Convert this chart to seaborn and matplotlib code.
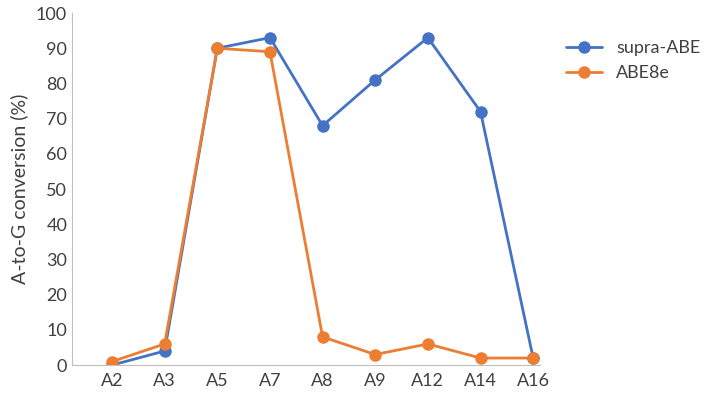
import matplotlib
matplotlib.use("Agg")
import matplotlib.pyplot as plt
import seaborn as sns
import pandas as pd

positions = ["A2", "A3", "A5", "A7", "A8", "A9", "A12", "A14", "A16"]
supra_abe = [0, 4, 90, 93, 68, 81, 93, 72, 2]
abe8e = [1, 6, 90, 89, 8, 3, 6, 2, 2]

sns.set_style("white")
plt.rcParams['font.family'] = ['Lato', 'DejaVu Sans']

df = pd.DataFrame({
    "x": list(range(len(positions))) * 2,
    "value": supra_abe + abe8e,
    "series": ["supra-ABE"] * len(positions) + ["ABE8e"] * len(positions),
})

fig = plt.figure(figsize=(7.2, 4.07), dpi=100)
ax = fig.add_axes([0.1, 0.103, 0.65, 0.865])
sns.lineplot(data=df, x="x", y="value", hue="series", marker="o", markersize=9,
             markeredgewidth=0, linewidth=2,
             palette={"supra-ABE": "#4472C4", "ABE8e": "#ED7D31"}, ax=ax)
ax.set_xlim(-0.76, 8.13)
ax.set_ylim(0, 100)
ax.set_yticks(range(0, 101, 10))
ax.set_xticks(range(len(positions)))
ax.set_xticklabels(positions)
ax.tick_params(labelsize=13, colors="#404040", length=0)
ax.tick_params(axis="x", pad=6)
ax.set_xlabel("")
ax.set_ylabel("A-to-G conversion (%)", fontsize=14, color="#404040", labelpad=6)
for s in ["top", "right"]:
    ax.spines[s].set_visible(False)
for s in ["left", "bottom"]:
    ax.spines[s].set_color("#BFBFBF")
ax.legend(loc="upper left", bbox_to_anchor=(1.02, 0.97), frameon=False,
          fontsize=13, labelcolor="#404040")
fig.savefig("out.png", dpi=100)
